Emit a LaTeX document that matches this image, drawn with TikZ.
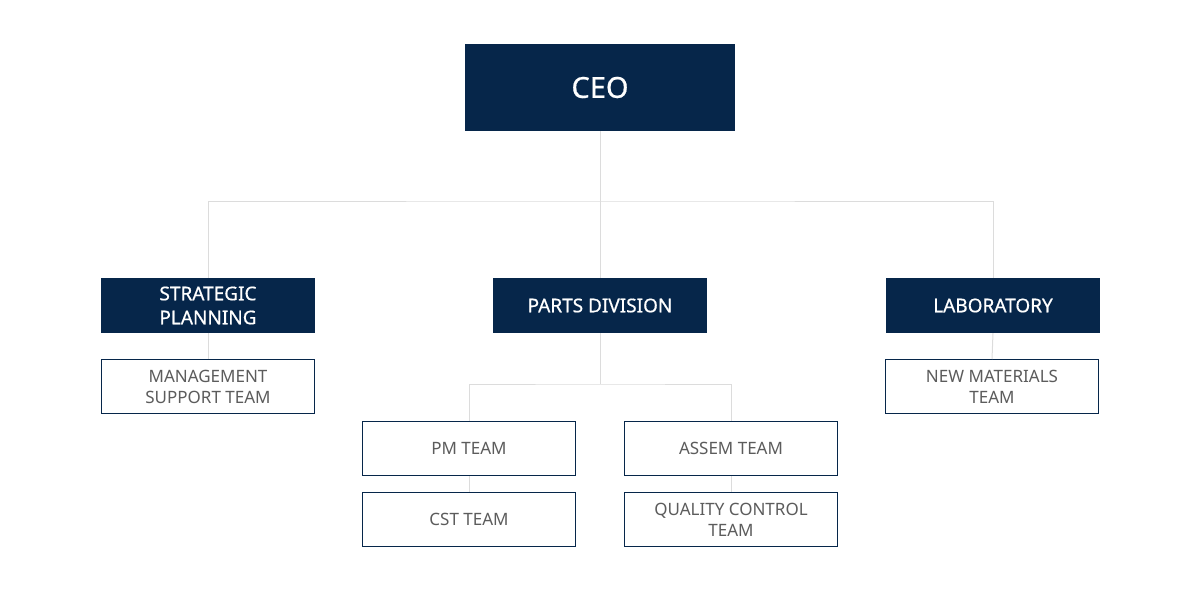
\documentclass[tikz,border=0pt]{standalone}
\usepackage{fontspec}
\setmainfont{Noto Sans}
\newfontfamily\medfont[FakeBold=0.6]{Noto Sans}
\usetikzlibrary{positioning}
\definecolor{navy}{HTML}{06264A}
\definecolor{teamgray}{HTML}{5C5C5C}
\definecolor{linegray}{HTML}{DCDCDC}
\begin{document}
\begin{tikzpicture}[x=1pt,y=-1pt,
    top node/.style={fill=navy,text=white,minimum width=270pt,minimum height=87pt,font=\medfont\fontsize{29}{34}\selectfont},
    div node/.style={fill=navy,text=white,minimum width=214pt,minimum height=55pt,align=center,inner sep=0pt,font=\medfont\fontsize{19}{24}\selectfont},
    team node/.style={draw=navy,line width=1pt,fill=white,text=teamgray,minimum width=213pt,minimum height=54pt,align=center,inner sep=0pt,font=\fontsize{17}{21}\selectfont},
    link/.style={draw=linegray,line width=1pt}]
    \useasboundingbox (0,0) rectangle (1200,605);

    \node[top node] (ceo) at (600,87.5) {CEO};
    \node[div node] (sp) at (208,305.5) {STRATEGIC\\PLANNING};
    \node[div node] (pd) at (600,305.5) {PARTS DIVISION};
    \node[div node] (lab) at (993,305.5) {LABORATORY};
    \node[team node] (mst) at (208,386.5) {MANAGEMENT\\SUPPORT TEAM};
    \node[team node] (nmt) at (992,386.5) {NEW MATERIALS\\TEAM};
    \node[team node] (pm) at (469,448.5) {PM TEAM};
    \node[team node] (as) at (731,448.5) {ASSEM TEAM};
    \node[team node] (cst) at (469,519.5) {CST TEAM};
    \node[team node] (qc) at (731,519.5) {QUALITY CONTROL\\TEAM};

    \coordinate (bus) at (600,201);
    \coordinate (sub bus) at (600,384);

    \path[link]
        (ceo.south) edge (pd.north)
        (sp.south) edge (mst.north)
        (lab.south) edge (nmt.north)
        (pm.south) edge (cst.north)
        (as.south) edge (qc.north);
    \draw[link] (sp.north) |- (bus) -| (lab.north);
    \draw[link] (pd.south) -- (sub bus);
    \draw[link] (pm.north) |- (sub bus) -| (as.north);
\end{tikzpicture}
\end{document}
